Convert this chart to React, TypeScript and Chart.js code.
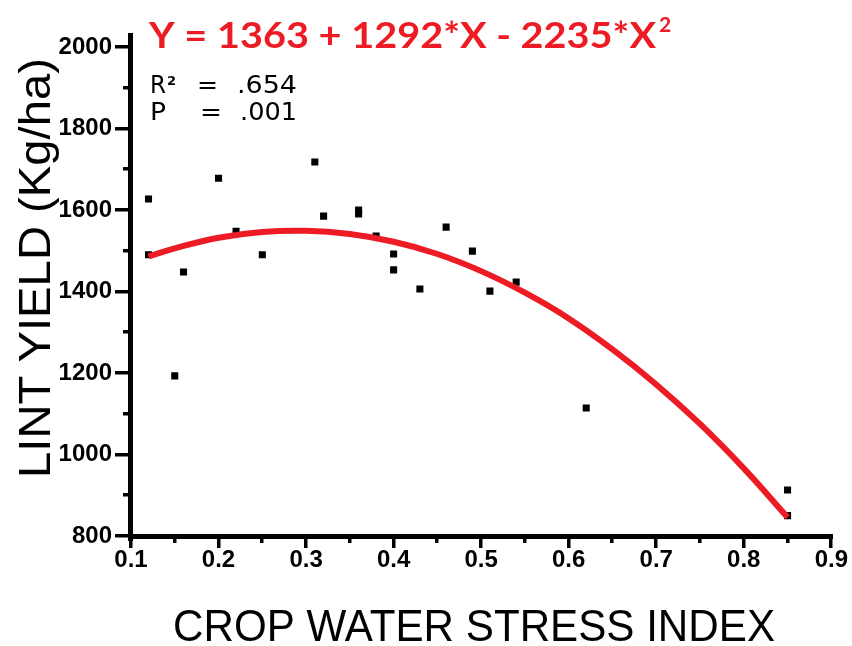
import React, { useEffect, useRef } from "react";
import { Chart, registerables } from "chart.js";

Chart.register(...registerables);

// Observed data (crop water stress index vs lint yield)
const stressIndex = [0.12, 0.12, 0.15, 0.16, 0.2, 0.22, 0.25, 0.31, 0.32, 0.36, 0.36, 0.38, 0.4, 0.4, 0.43, 0.46, 0.49, 0.51, 0.54, 0.62, 0.85, 0.85];
const lintYield = [1627, 1490, 1193, 1448, 1678, 1548, 1490, 1718, 1585, 1600, 1590, 1536, 1492, 1453, 1406, 1558, 1499, 1401, 1423, 1114, 913, 850];

// Fitted curve
const fitX = [0.12, 0.15, 0.2, 0.25, 0.3, 0.35, 0.4, 0.45, 0.5, 0.55, 0.6, 0.65, 0.7, 0.75, 0.8, 0.85];
const fitY = [1486, 1506, 1532, 1546, 1549, 1541, 1522, 1492, 1450, 1397, 1334, 1258, 1172, 1075, 966, 846];

const xTickLabels = ["0.1", "0.2", "0.3", "0.4", "0.5", "0.6", "0.7", "0.8", "0.9"];
const yTickLabels = ["800", "1000", "1200", "1400", "1600", "1800", "2000"];

const equationText = "Y = 1363 + 1292*X - 2235*X";
const equationSup = "2";
const xTitle = "CROP WATER STRESS INDEX";
const yTitle = "LINT YIELD (Kg/ha)";

const RED = "#ED1C24";

function drawFit(ctx: CanvasRenderingContext2D, text: string, x: number, y: number, font: string, color: string, targetW?: number) {
  ctx.save();
  ctx.font = font;
  ctx.fillStyle = color;
  ctx.textAlign = "left";
  ctx.textBaseline = "alphabetic";
  const w = ctx.measureText(text).width;
  const sx = targetW ? targetW / w : 1;
  ctx.translate(x, y);
  ctx.scale(sx, 1);
  ctx.fillText(text, 0, 0);
  ctx.restore();
}

const decorPlugin = {
  id: "decor",
  afterDraw(chart: any) {
    const ctx: CanvasRenderingContext2D = chart.ctx;
    const xs = chart.scales.x;
    const ys = chart.scales.y;
    const left = Math.round(xs.getPixelForValue(0.1));
    const right = Math.round(xs.getPixelForValue(0.9));
    const bottom = Math.round(ys.getPixelForValue(800));
    const top = Math.round(ys.getPixelForValue(2000));
    ctx.save();
    ctx.fillStyle = "#000";
    // axes
    ctx.fillRect(left - 3, top - 14, 5, bottom - top + 19);
    ctx.fillRect(left - 3, bottom - 2, right - left + 5, 5);
    // y ticks
    for (let v = 800; v <= 2000; v += 100) {
      const py = Math.round(ys.getPixelForValue(v));
      const major = v % 200 === 0;
      const len = major ? 13 : 5;
      ctx.fillRect(left - 3 - len, py - 2, len, 3.5);
    }
    // x ticks
    for (let i = 0; i <= 16; i++) {
      const v = 0.1 + i * 0.05;
      const px = Math.round(xs.getPixelForValue(v));
      const major = i % 2 === 0;
      ctx.fillRect(px - 2, bottom + 3, 3.5, major ? 9 : 4);
    }
    ctx.restore();

    // equation
    drawFit(ctx, equationText, 149, 48, "bold 36px Lato", RED, 507);
    drawFit(ctx, equationSup, 659, 32, "bold 21px Lato", RED);
    // stats
    const f = "25px 'DejaVu Sans'";
    drawFit(ctx, "R", 150, 93, f, "#000", 16);
    drawFit(ctx, "2", 167, 85, "bold 13px 'DejaVu Sans'", "#000");
    drawFit(ctx, "=", 197, 93, f, "#000", 21);
    drawFit(ctx, ".654", 237, 93, f, "#000", 60);
    drawFit(ctx, "P", 150, 120, f, "#000", 16);
    drawFit(ctx, "=", 200, 120, f, "#000", 22);
    drawFit(ctx, ".001", 240, 120, f, "#000", 57);
    // x title
    drawFit(ctx, xTitle, 173, 641, "44px 'Liberation Sans'", "#000", 602);
    // y title
    ctx.save();
    ctx.font = "45px 'Liberation Sans'";
    ctx.fillStyle = "#000";
    ctx.textBaseline = "alphabetic";
    const w = ctx.measureText(yTitle).width;
    ctx.translate(50, 478);
    ctx.rotate(-Math.PI / 2);
    ctx.scale(420 / w, 1);
    ctx.fillText(yTitle, 0, 0);
    ctx.restore();
  },
};

export default function App() {
  const ref = useRef<HTMLCanvasElement | null>(null);
  useEffect(() => {
    document.body.style.margin = "0";
    const canvas = ref.current;
    if (!canvas) return;
    const chart = new Chart(canvas, {
      type: "scatter",
      data: {
        datasets: [
          {
            type: "line",
            label: "fit",
            data: fitX.map((x, i) => ({ x, y: fitY[i] })),
            borderColor: RED,
            borderWidth: 6,
            pointRadius: 0,
            tension: 0.4,
            fill: false,
            order: 0,
          } as any,
          {
            type: "scatter",
            label: "observed",
            data: stressIndex.map((x, i) => ({ x, y: lintYield[i] })),
            pointStyle: "rect",
            pointRadius: 5,
            backgroundColor: "#000",
            borderColor: "#000",
            borderWidth: 0,
            order: 1,
          },
        ],
      },
      options: {
        animation: false,
        responsive: false,
        maintainAspectRatio: false,
        devicePixelRatio: 1,
        layout: { padding: { left: 0, top: 47, right: 20, bottom: 0 } },
        plugins: { legend: { display: false }, tooltip: { enabled: false } },
        scales: {
          x: {
            type: "linear",
            min: 0.1,
            max: 0.9,
            afterFit: (s: any) => { s.height = 110; },
            grid: { display: false, drawTicks: true, tickLength: 6 },
            border: { display: false },
            ticks: {
              stepSize: 0.1,
              padding: 4,
              color: "#000",
              font: { family: "'Liberation Sans'", weight: "bold", size: 24, lineHeight: 1.2 },
              maxRotation: 0,
              autoSkip: false,
              callback: (v: any) => {
                const k = Math.round(Number(v) * 10) - 1;
                return xTickLabels[k] ?? "";
              },
            },
          },
          y: {
            type: "linear",
            min: 800,
            max: 2000,
            afterFit: (s: any) => { s.width = 131; },
            grid: { display: false, drawTicks: true, tickLength: 16 },
            border: { display: false },
            ticks: {
              stepSize: 200,
              padding: 3,
              color: "#000",
              font: { family: "'Liberation Sans'", weight: "bold", size: 24, lineHeight: 1.2 },
              callback: (v: any) => {
                const k = Math.round((Number(v) - 800) / 200);
                return yTickLabels[k] ?? "";
              },
            },
          },
        },
      },
      plugins: [decorPlugin],
    });
    return () => chart.destroy();
  }, []);
  return (
    <div style={{ position: "fixed", left: 0, top: 0, width: 852, height: 646, background: "#fff" }}>
      <canvas ref={ref} width={852} height={646} />
    </div>
  );
}
